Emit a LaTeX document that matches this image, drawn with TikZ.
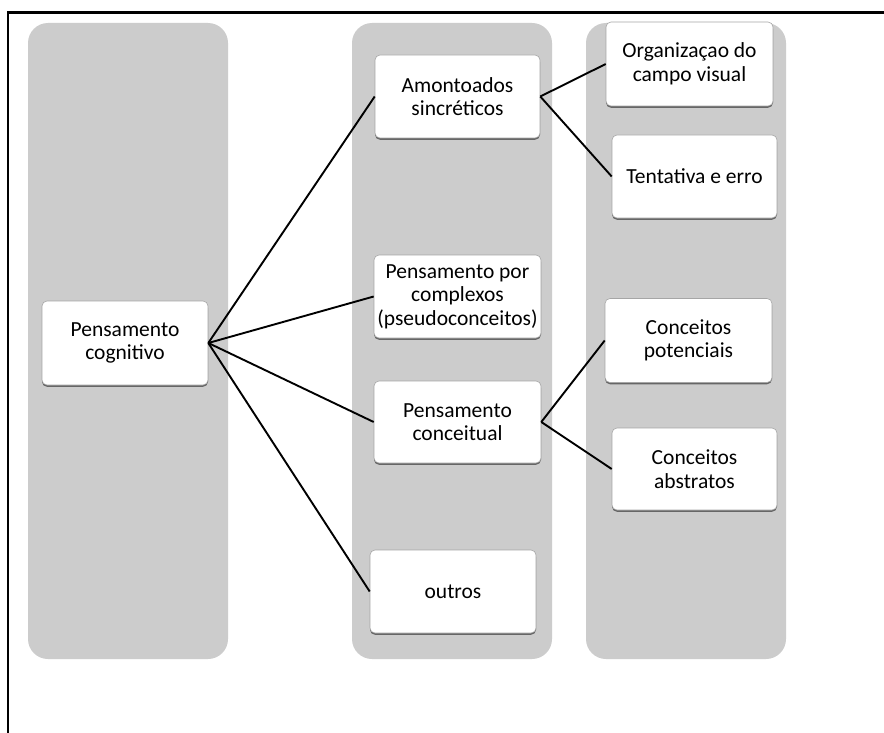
\documentclass[tikz,border=0pt]{standalone}
\usepackage{fontspec}
\setmainfont{Carlito}
\usetikzlibrary{shadows}
\begin{document}
\begin{tikzpicture}[x=1pt,y=-1pt,
  col/.style={fill=black!20, rounded corners=20pt},
  box/.style={draw=black!35, line width=0.6pt, fill=white, rounded corners=5pt,
    align=center, inner sep=0pt, font=\fontsize{21.5}{23.5}\selectfont,
    drop shadow={shadow xshift=0pt, shadow yshift=-1.8pt, fill=black!60, opacity=1}},
  link/.style={line width=1.9pt}]
\useasboundingbox (0,0) rectangle (884,733);
\fill[white] (0,0) rectangle (884,733);
\draw[line width=2.2pt] (884,12.5) -- (8,12.5) -- (8,733);
% columns
\fill[col] (28,23) rectangle (228,659);
\fill[col] (352,23) rectangle (552,659);
\fill[col] (586,23) rectangle (786,659);
% boxes
\node[box, minimum width=166pt, minimum height=84pt] (cog) at (125,343) {Pensamento\\cognitivo};
\node[box, minimum width=165pt, minimum height=83pt] (amo) at (457.5,96.5) {Amontoados\\sincréticos};
\node[box, minimum width=167pt, minimum height=84pt] (org) at (689.5,64) {Organizaçao do\\campo visual};
\node[box, minimum width=165pt, minimum height=83pt] (ten) at (694.5,176.5) {Tentativa e erro};
\node[box, minimum width=167pt, minimum height=83pt] (com) at (457.5,296.5) {Pensamento por\\complexos\\(pseudoconceitos)};
\node[box, minimum width=167pt, minimum height=82pt] (conc) at (457.5,422) {Pensamento\\conceitual};
\node[box, minimum width=167pt, minimum height=84pt] (pot) at (688.5,340.5) {Conceitos\\potenciais};
\node[box, minimum width=165pt, minimum height=82pt] (abs) at (694.5,469) {Conceitos\\abstratos};
\node[box, minimum width=166pt, minimum height=83pt] (out) at (453,591.5) {outros};
% connectors
\draw[link] (cog.east) -- (amo.west);
\draw[link] (cog.east) -- (com.west);
\draw[link] (cog.east) -- (conc.west);
\draw[link] (cog.east) -- (out.west);
\draw[link] (amo.east) -- (org.west);
\draw[link] (amo.east) -- (ten.west);
\draw[link] (conc.east) -- (pot.west);
\draw[link] (conc.east) -- (abs.west);
\end{tikzpicture}
\end{document}
